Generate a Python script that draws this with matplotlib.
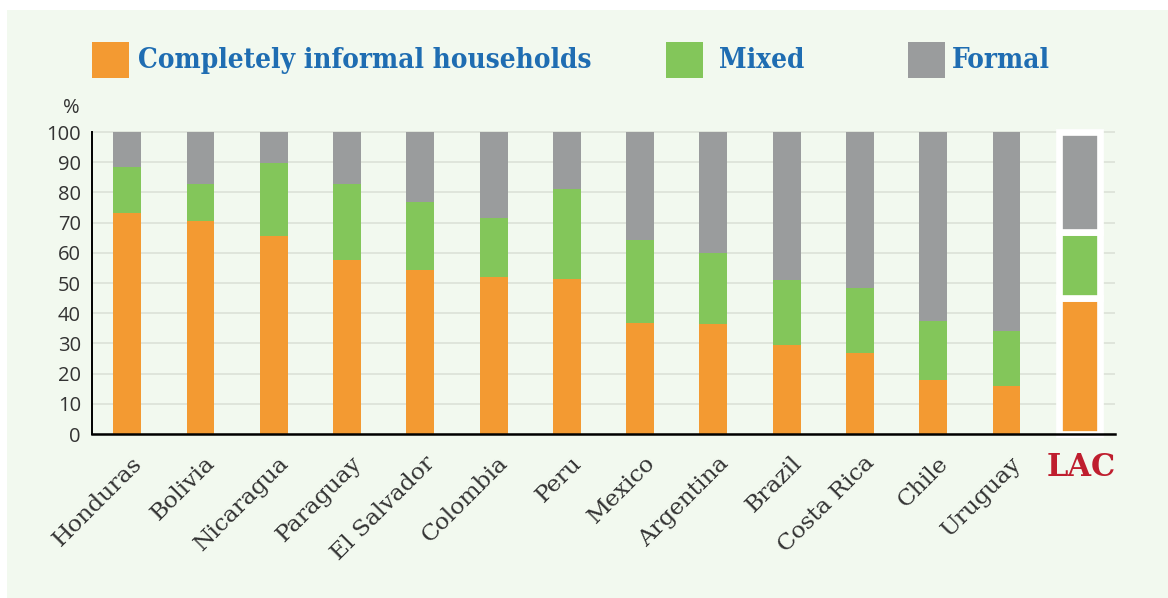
import matplotlib
matplotlib.use("Agg")
import matplotlib.pyplot as plt
from matplotlib.patches import Rectangle
import numpy as np

countries = ["Honduras", "Bolivia", "Nicaragua", "Paraguay", "El Salvador", "Colombia",
             "Peru", "Mexico", "Argentina", "Brazil", "Costa Rica", "Chile", "Uruguay"]
informal = [73.1, 70.4, 65.6, 57.6, 54.3, 52.0, 51.2, 36.8, 36.4, 29.4, 26.7, 17.9, 15.9]
mixed_top = [88.3, 82.8, 89.6, 82.8, 76.8, 71.5, 81.0, 64.2, 59.8, 51.0, 48.3, 37.3, 34.0]
mixed = [round(m - i, 1) for m, i in zip(mixed_top, informal)]
formal = [round(100 - m, 1) for m in mixed_top]

lac_label = "LAC"
lac_values = [45.2, 21.8, 33.0]  # informal, mixed, formal

series_names = ["Completely informal households", "Mixed", "Formal"]
yticks = list(range(0, 101, 10))

C_OR = "#F39A32"
C_GR = "#83C65A"
C_GY = "#9A9C9D"
BG = "#F2F9EF"
TXT = "#333333"
BLUE = "#1F6DB2"
RED = "#BF1E2E"

W, H = 1168, 598
fig = plt.figure(figsize=(W / 100, H / 100), dpi=100)
fig.patch.set_facecolor("white")
fig.add_artist(Rectangle((7 / W, 0), 1 - 7 / W, 1 - 10 / H, transform=fig.transFigure,
                         facecolor=BG, edgecolor="none", zorder=-10))

ax = fig.add_axes([92 / W, 1 - 434 / H, (1115 - 92) / W, (434 - 129) / H])
ax.set_facecolor("none")
x = np.arange(len(countries))
bw = 0.38
ax.bar(x, informal, bw, color=C_OR, zorder=3)
ax.bar(x, mixed, bw, bottom=informal, color=C_GR, zorder=3)
ax.bar(x, formal, bw, bottom=np.array(informal) + np.array(mixed), color=C_GY, zorder=3)

xl = len(countries)
b = 0
for v, c in zip(lac_values, [C_OR, C_GR, C_GY]):
    ax.bar(xl, v, 0.56, bottom=b, color=c, edgecolor="white", linewidth=4.8, zorder=4, clip_on=False)
    b += v

ax.set_xlim(-0.48, xl + 0.48)
ax.set_ylim(0, 101)
ax.set_yticks(yticks)
ax.set_yticklabels([str(t) for t in yticks], fontsize=14.5, color=TXT, family="Open Sans")
ax.tick_params(axis="y", length=0, pad=8)
ax.tick_params(axis="x", length=0, labelbottom=False)
for yv in yticks:
    ax.axhline(yv, color="#DDE3D9", lw=1.3, zorder=1)
for s in ["top", "right"]:
    ax.spines[s].set_visible(False)
ax.spines["left"].set_bounds(0, 100)
ax.spines["left"].set_linewidth(1.4)
ax.spines["bottom"].set_linewidth(1.8)
ax.spines["left"].set_zorder(5)
ax.spines["bottom"].set_zorder(5)

ax.text(-0.76, 104.5, "%", fontsize=14.5, color=TXT, family="Open Sans", ha="center", va="bottom")

for i, name in enumerate(countries):
    ax.text(i + 0.05, -6.0, name, rotation=45, rotation_mode="anchor", ha="right", va="top",
            fontsize=16.8, color=TXT, family="DejaVu Serif", clip_on=False)
ax.text(xl + 0.02, -11, lac_label, ha="center", va="center", fontsize=22, fontweight="bold",
        color=RED, family="DejaVu Serif", clip_on=False)

# legend
leg = [(92, C_OR, 138), (666, C_GR, 719), (908, C_GY, 952)]
for (sx, col, tx), name in zip(leg, series_names):
    fig.add_artist(Rectangle((sx / W, 1 - 78 / H), 37 / W, 36 / H, transform=fig.transFigure,
                             facecolor=col, edgecolor="none"))
    fig.text(tx / W, 1 - 60 / H, name, ha="left", va="center", fontsize=20, fontweight="bold",
             color=BLUE, family="DejaVu Serif", fontstretch="condensed")

fig.savefig("out.png", dpi=100, facecolor=fig.get_facecolor())
